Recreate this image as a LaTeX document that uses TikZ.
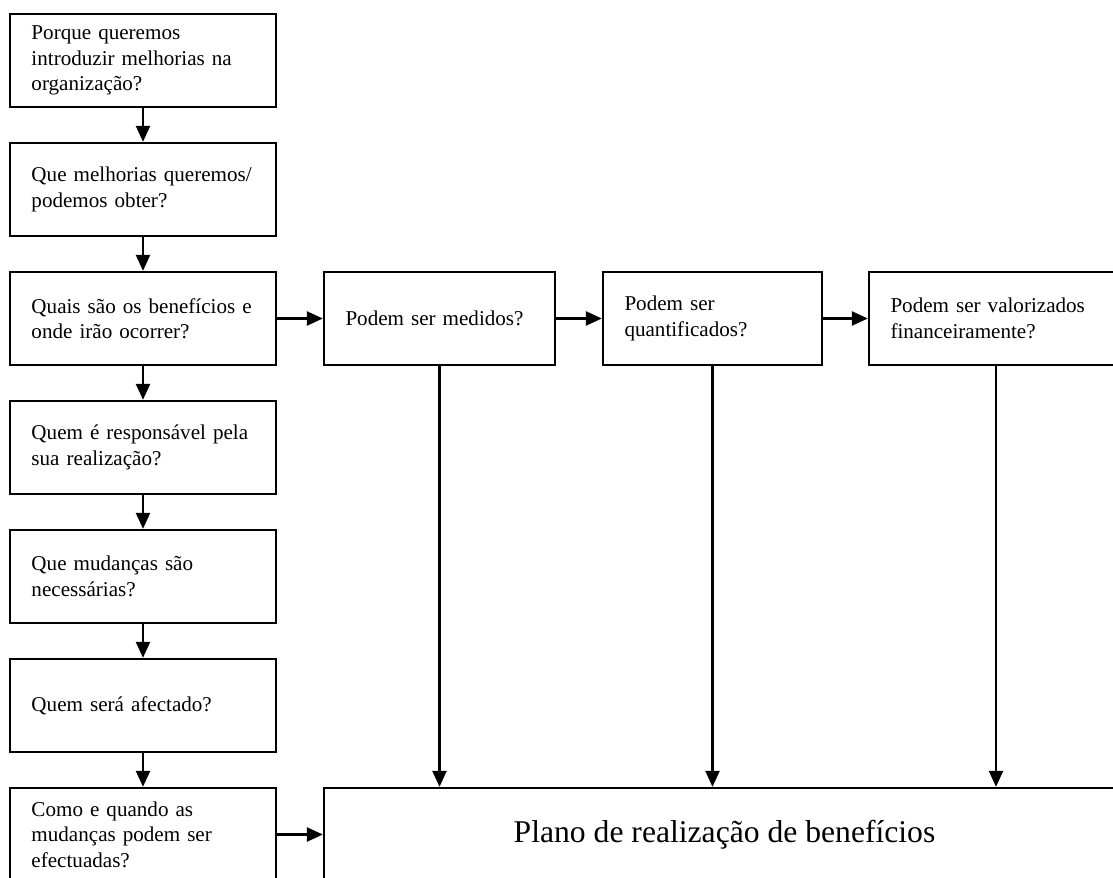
\documentclass[tikz,border=0pt]{standalone}
\usepackage{fontspec}
\setmainfont{Liberation Serif}
\usetikzlibrary{arrows.meta,positioning}

\begin{document}
\begin{tikzpicture}[
	>={Triangle[length=0.32cm,width=0.28cm]},
	line width=1.3pt,
	pergunta/.style={draw, align=left, inner xsep=0.43cm, minimum height=1.86cm,
		font=\fontsize{12}{14.5}\selectfont},
	plano/.style={draw, minimum height=1.86cm, font=\fontsize{18}{22}\selectfont}
	]
	\useasboundingbox (0,0) rectangle (22.26,17.54);
	
	% Left column of questions
	\node[pergunta, text width=4.46cm] (porque) at (2.86,16.33) {Porque queremos\\introduzir melhorias na\\organização?};
	\node[pergunta, text width=4.46cm] (melhorias) at (2.86,13.75) {Que melhorias queremos/\\podemos obter?};
	\node[pergunta, text width=4.46cm] (beneficios) at (2.86,11.17) {Quais são os benefícios e\\onde irão ocorrer?};
	\node[pergunta, text width=4.46cm] (responsavel) at (2.86,8.59) {Quem é responsável pela\\sua realização?};
	\node[pergunta, text width=4.46cm] (mudancas) at (2.86,6.01) {Que mudanças são\\necessárias?};
	\node[pergunta, text width=4.46cm] (afectado) at (2.86,3.43) {Quem será afectado?};
	\node[pergunta, text width=4.46cm] (quando) at (2.86,0.85) {Como e quando as\\mudanças podem ser\\efectuadas?};
	
	% Row of measures
	\node[pergunta, text width=3.76cm] (medidos) at (8.79,11.17) {Podem ser medidos?};
	\node[pergunta, text width=3.52cm] (quantificados) at (14.25,11.17) {Podem ser\\quantificados?};
	\node[pergunta, text width=4.22cm] (valorizados) at (19.92,11.17) {Podem ser valorizados\\financeiramente?};
	
	% Plan
	\node[plano, minimum width=16.02cm] (realizacao) at (14.49,0.85) {Plano de realização de benefícios};
	
	% Arrows down the left column
	\draw[->] (porque) -- (melhorias);
	\draw[->] (melhorias) -- (beneficios);
	\draw[->] (beneficios) -- (responsavel);
	\draw[->] (responsavel) -- (mudancas);
	\draw[->] (mudancas) -- (afectado);
	\draw[->] (afectado) -- (quando);
	
	% Arrows along the row
	\draw[->] (beneficios) -- (medidos);
	\draw[->] (medidos) -- (quantificados);
	\draw[->] (quantificados) -- (valorizados);
	
	% Arrows into the plan
	\draw[->] (medidos) -- (medidos |- realizacao.north);
	\draw[->] (quantificados) -- (quantificados |- realizacao.north);
	\draw[->] (valorizados) -- (valorizados |- realizacao.north);
	\draw[->] (quando) -- (realizacao);
\end{tikzpicture}
\end{document}
